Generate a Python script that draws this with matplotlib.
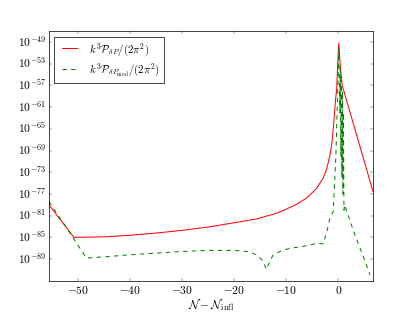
import numpy as np
import matplotlib
matplotlib.use("Agg")
import matplotlib.pyplot as plt
from matplotlib.ticker import FixedLocator, FuncFormatter, NullLocator

plt.style.use('classic')
plt.rcParams['mathtext.fontset'] = 'cm'

# red curve: N - N_infl vs log10 of k^3 P_dP/(2 pi^2)
red_x = [-55.6, -50.8, -45, -40, -35, -30, -25, -20, -15.7, -12, -10, -8,
         -6, -4.2, -2.9, -2.2, -1.6, -1.2, -0.96, -0.7, -0.5, -0.3, -0.1,
         0.1, 0.4, 0.77, 6.7]
red_y = [-79.0, -85.0, -84.9, -84.6, -84.2, -83.7, -83.1, -82.3, -81.6, -80.6,
         -79.8, -78.9, -77.7, -76.0, -74.1, -72.3, -69.9, -67.5, -65.0, -62.0,
         -59.5, -57.7, -53.0, -49.2, -53.5, -57.0, -76.6]

# green dashed curve: log10 of k^3 P_dPmod/(2 pi^2)
green_x = [-55.6, -50.8, -48.4, -45, -40, -35, -30, -25, -20, -17.5, -15.7,
           -14.5, -13.8, -13.2, -12.5, -11, -9.3, -7, -5.4, -4.2, -2.9, -2.2,
           -1.6, -0.96, -0.45, -0.1, 0.1, 0.3, 0.4, 0.5, 0.6, 0.7, 0.8, 0.9,
           1.0, 1.1, 1.2, 1.9, 3.0, 4.2, 5.2, 6.1]
green_y = [-78.4, -85.3, -88.8, -88.6, -88.2, -87.9, -87.6, -87.4, -87.4, -87.6,
           -88.2, -89.3, -90.9, -89.5, -88.2, -87.5, -87.0, -86.7, -86.4, -86.1,
           -86.2, -84.0, -81.5, -80.2, -70.0, -58.0, -50.3, -62.0, -54.0, -70.0,
           -56.0, -74.0, -58.0, -77.0, -62.0, -80.0, -79.0, -80.9, -84.0, -87.0,
           -89.5, -91.9]

ytick_exps = [-49, -53, -57, -61, -65, -69, -73, -77, -81, -85, -89]
xticks = [-50, -40, -30, -20, -10, 0]

fig = plt.figure(figsize=(415 / 52, 6), dpi=52)
ax = fig.add_axes([0.118, 0.1, 0.781, 0.8])

ax.semilogy(red_x, 10.0 ** np.array(red_y), 'r-', lw=1.4,
            label=r'$k^3\mathcal{P}_{\delta P}/(2\pi^2)$')
ax.semilogy(green_x, 10.0 ** np.array(green_y), 'g--', lw=1.4,
            label=r'$k^3\mathcal{P}_{\delta P_{\rm mod}}/(2\pi^2)$')

ax.set_xlim(-55.6, 6.7)
ax.set_ylim(10.0 ** -93, 10.0 ** -47)
ax.yaxis.set_major_locator(FixedLocator([10.0 ** e for e in ytick_exps]))
ax.yaxis.set_minor_locator(NullLocator())
ax.yaxis.set_major_formatter(FuncFormatter(
    lambda v, p: r'$10^{%d}$' % int(round(np.log10(v)))))
ax.xaxis.set_major_locator(FixedLocator(xticks))
ax.xaxis.set_major_formatter(FuncFormatter(lambda v, p: r'$%d$' % int(round(v))))
ax.tick_params(labelsize=16)

ax.set_xlabel(r'$\mathcal{N}-\mathcal{N}_{\rm infl}$', fontsize=16, labelpad=0)
ax.legend(loc='upper left', fontsize=15, labelspacing=0.35)

fig.savefig('out.png', dpi=52)
